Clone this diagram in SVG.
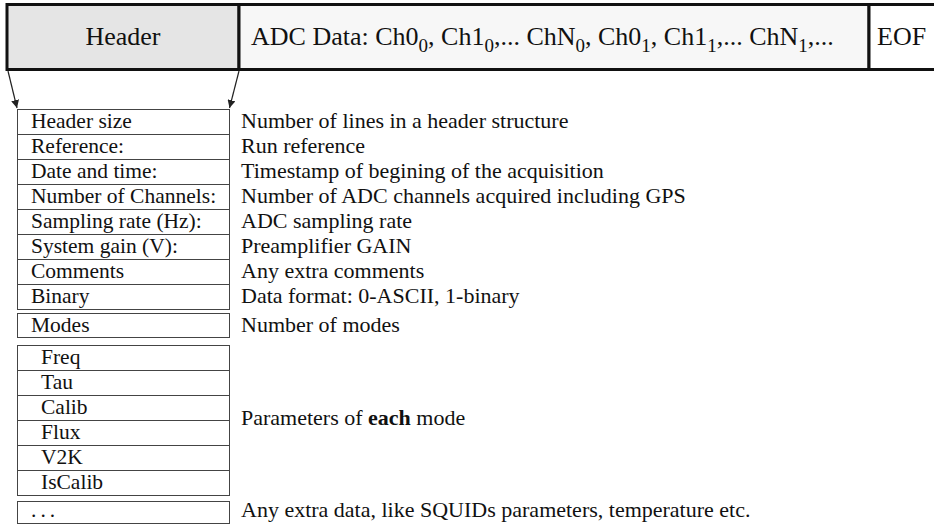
<svg xmlns="http://www.w3.org/2000/svg" width="934" height="525" viewBox="0 0 934 525">
<style>
.bar{font-family:"Liberation Serif","Times New Roman",serif;font-size:26px;fill:#111}
.sub{font-size:19px}
.cell{fill:#fff;stroke:#444;stroke-width:1}
.lt{font-family:"Liberation Serif","Times New Roman",serif;font-size:21.5px;fill:#111}
.rt{font-family:"Liberation Serif","Times New Roman",serif;font-size:22px;fill:#111}
.box{stroke:#111;stroke-width:3}
.conn{stroke:#222;stroke-width:1.2;fill:none}
</style>
<defs>
<marker id="ah" viewBox="0 0 10 10" refX="10" refY="5" markerWidth="8" markerHeight="8" markerUnits="userSpaceOnUse" orient="auto">
<path d="M0,0 L10,5 L0,10 z" fill="#222"/>
</marker>
</defs>
<g id="header-box">
<rect class="box" x="7" y="4.5" width="232" height="65" fill="#e5e5e5"/>
<text class="bar" x="123" y="45" text-anchor="middle">Header</text>
</g>
<g id="adc-box">
<rect class="box" x="239" y="4.5" width="630" height="65" fill="#f7f7f7"/>
<text class="bar" x="251" y="45">ADC Data: Ch0<tspan class="sub" dy="7">0</tspan><tspan dy="-7">, Ch1</tspan><tspan class="sub" dy="7">0</tspan><tspan dy="-7">,... ChN</tspan><tspan class="sub" dy="7">0</tspan><tspan dy="-7">, Ch0</tspan><tspan class="sub" dy="7">1</tspan><tspan dy="-7">, Ch1</tspan><tspan class="sub" dy="7">1</tspan><tspan dy="-7">,... ChN</tspan><tspan class="sub" dy="7">1</tspan><tspan dy="-7">,...</tspan></text>
</g>
<g id="eof-box">
<rect class="box" x="869" y="4.5" width="80" height="65" fill="#ffffff"/>
<text class="bar" x="877" y="45">EOF</text>
</g>
<g id="connectors">
<line class="conn" x1="8" y1="71" x2="17" y2="108" marker-end="url(#ah)"/>
<line class="conn" x1="239" y1="71" x2="229.5" y2="108" marker-end="url(#ah)"/>
</g>
<g id="header-fields">
<rect class="cell" x="17.5" y="109.5" width="212" height="25"/>
<rect class="cell" x="17.5" y="134.5" width="212" height="25"/>
<rect class="cell" x="17.5" y="159.5" width="212" height="25"/>
<rect class="cell" x="17.5" y="184.5" width="212" height="25"/>
<rect class="cell" x="17.5" y="209.5" width="212" height="25"/>
<rect class="cell" x="17.5" y="234.5" width="212" height="25"/>
<rect class="cell" x="17.5" y="259.5" width="212" height="25"/>
<rect class="cell" x="17.5" y="284.5" width="212" height="25"/>
<text class="lt" x="31" y="128">Header size</text>
<text class="lt" x="31" y="153">Reference:</text>
<text class="lt" x="31" y="178">Date and time:</text>
<text class="lt" x="31" y="203">Number of Channels:</text>
<text class="lt" x="31" y="228">Sampling rate (Hz):</text>
<text class="lt" x="31" y="253">System gain (V):</text>
<text class="lt" x="31" y="278">Comments</text>
<text class="lt" x="31" y="303">Binary</text>
<text class="rt" x="241" y="128">Number of lines in a header structure</text>
<text class="rt" x="241" y="153">Run reference</text>
<text class="rt" x="241" y="178">Timestamp of begining of the acquisition</text>
<text class="rt" x="241" y="203">Number of ADC channels acquired including GPS</text>
<text class="rt" x="241" y="228">ADC sampling rate</text>
<text class="rt" x="241" y="253">Preamplifier GAIN</text>
<text class="rt" x="241" y="278">Any extra comments</text>
<text class="rt" x="241" y="303">Data format: 0-ASCII, 1-binary</text>
</g>
<g id="modes">
<rect class="cell" x="17.5" y="313.5" width="212" height="24"/>
<text class="lt" x="31" y="332">Modes</text>
<text class="rt" x="241" y="332">Number of modes</text>
</g>
<g id="mode-params">
<rect class="cell" x="17.5" y="345.5" width="212" height="25"/>
<rect class="cell" x="17.5" y="370.5" width="212" height="25"/>
<rect class="cell" x="17.5" y="395.5" width="212" height="25"/>
<rect class="cell" x="17.5" y="420.5" width="212" height="25"/>
<rect class="cell" x="17.5" y="445.5" width="212" height="25"/>
<rect class="cell" x="17.5" y="470.5" width="212" height="25"/>
<text class="lt" x="41" y="364">Freq</text>
<text class="lt" x="41" y="389">Tau</text>
<text class="lt" x="41" y="414">Calib</text>
<text class="lt" x="41" y="439">Flux</text>
<text class="lt" x="41" y="464">V2K</text>
<text class="lt" x="41" y="489">IsCalib</text>
<text class="rt" x="241" y="425">Parameters of <tspan font-weight="bold">each</tspan> mode</text>
</g>
<g id="extra">
<rect class="cell" x="17.5" y="501.5" width="212" height="22"/>
<text class="lt" x="31" y="517" letter-spacing="4">...</text>
<text class="rt" x="241" y="517">Any extra data, like SQUIDs parameters, temperature etc.</text>
</g>
</svg>
